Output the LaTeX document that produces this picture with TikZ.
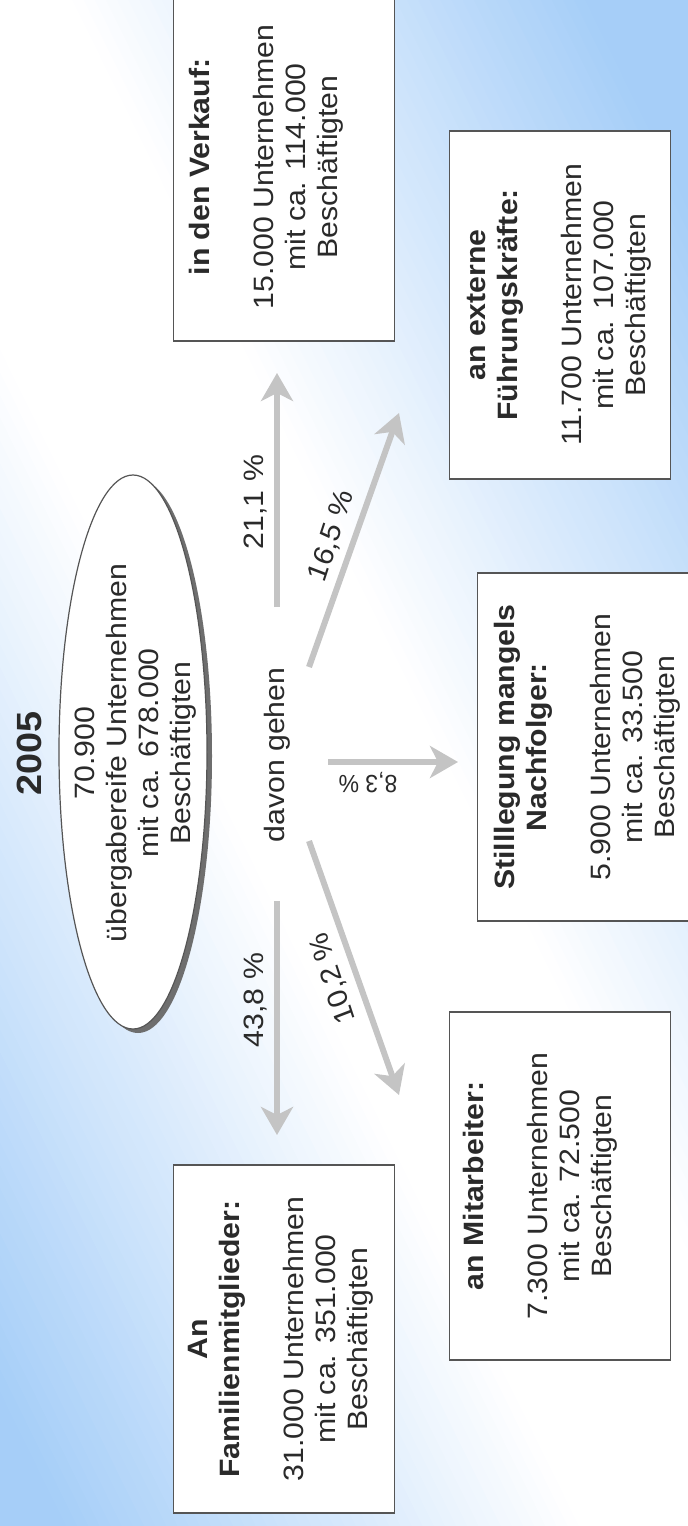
\documentclass[tikz,border=0pt]{standalone}
\usepackage{fontspec}
\setmainfont{Liberation Sans}
\usetikzlibrary{arrows.meta,shapes.geometric}
\definecolor{bgblue}{HTML}{A6CEF8}
\definecolor{arrgray}{HTML}{C4C4C4}
\definecolor{boxline}{HTML}{555555}
\definecolor{inkc}{HTML}{2A2A2A}
\definecolor{shadowgray}{HTML}{6E6E6E}
\begin{document}
\begin{tikzpicture}[x=0.5pt,y=-0.5pt,
  txt/.style={yscale=1.08, rotate=90, align=center, inner sep=0pt, text=inkc,
    font=\fontsize{14}{16}\selectfont},
  lbl/.style={yscale=1.08, rotate=#1, inner sep=0pt, text=inkc,
    font=\fontsize{14}{16}\selectfont},
  box/.style={draw=boxline, line width=0.8pt, fill=white, inner sep=0pt,
    minimum width=110.5pt, minimum height=174pt},
  arr/.style={draw=arrgray, line width=3pt,
    -{Stealth[length=14pt,width=16pt,inset=4pt]}}]

\useasboundingbox (0,0) rectangle (688,1526);

% background
\begin{scope}
  \clip (0,0) rectangle (688,1526);
  \fill[white] (0,0) rectangle (688,1526);
  \begin{scope}[shift={(344,800)}, rotate=26.2]
    \foreach \u in {-760,-750,...,750} {
      \pgfmathsetmacro\pc{max(0,min(100,(abs(\u+5)-110)/4.6))}
      \fill[bgblue!\pc!white] (\u,-1300) rectangle (\u+10.6,1300);
    }
  \end{scope}

  % boxes
  \node[box] (b1) at (284,167) {};
  \node[box] (b2) at (560,305) {};
  \node[box] (b3) at (588,747) {};
  \node[box] (b4) at (560,1186) {};
  \node[box] (b5) at (284,1339) {};
\end{scope}

% year
\node[yscale=1.08, rotate=90, inner sep=0pt, text=inkc,
  font=\fontsize{17.5}{20}\selectfont\bfseries] (yr) at (29,753) {2005};

% ellipse
\node[ellipse, fill=shadowgray, inner sep=0pt, minimum width=74pt, minimum height=277pt]
  (ellsh) at (138,756) {};
\node[ellipse, draw=boxline, line width=0.6pt, fill=white, inner sep=0pt,
  minimum width=74pt, minimum height=277pt] (ell) at (133,752) {};
\node[txt] (elltxt) at (136,753)
  {70.900\\übergabereife Unternehmen\\mit ca. 678.000\\Beschäftigten};

\node[txt] (davon) at (277,755) {davon gehen};

% box texts
\node[txt] (t1) at (266,167)
  {\textbf{in den Verkauf:}\\[16pt]15.000 Unternehmen\\mit ca. 114.000\\Beschäftigten};
\node[txt] (t2) at (559,305)
  {\textbf{an externe}\\\textbf{Führungskräfte:}\\[16pt]11.700 Unternehmen\\mit ca. 107.000\\Beschäftigten};
\node[txt] (t3) at (587,747)
  {\textbf{Stilllegung mangels}\\\textbf{Nachfolger:}\\[16pt]5.900 Unternehmen\\mit ca. 33.500\\Beschäftigten};
\node[txt] (t4) at (540,1186)
  {\textbf{an Mitarbeiter:}\\[16pt]7.300 Unternehmen\\mit ca. 72.500\\Beschäftigten};
\node[txt] (t5) at (281,1339)
  {\textbf{An}\\\textbf{Familienmitglieder:}\\[16pt]31.000 Unternehmen\\mit ca. 351.000\\Beschäftigten};

% arrow end points
\coordinate (a1s) at (277,607);  \coordinate (a1e) at (277,373);
\coordinate (a2s) at (309,667);  \coordinate (a2e) at (399,413);
\coordinate (a3s) at (328,762);  \coordinate (a3e) at (458,762);
\coordinate (a4s) at (277,901);  \coordinate (a4e) at (277,1135);
\coordinate (a5s) at (309,841);  \coordinate (a5e) at (399,1095);

\draw[arr] (a1s) -- (a1e);
\draw[arr] (a2s) -- (a2e);
\draw[arr] (a3s) -- (a3e);
\draw[arr] (a4s) -- (a4e);
\draw[arr] (a5s) -- (a5e);

% percentages
\node[lbl=90] (l1) at (256,502) {21,1 \%};
\node[lbl=70.5] (l2) at (332,536) {16,5 \%};
\node[lbl=180, font=\fontsize{11.5}{14}\selectfont] (l3) at (368,783) {8,3 \%};
\node[lbl=90] (l4) at (256,1000) {43,8 \%};
\node[lbl=109.5] (l5) at (333,978) {10,2 \%};
\end{tikzpicture}
\end{document}
